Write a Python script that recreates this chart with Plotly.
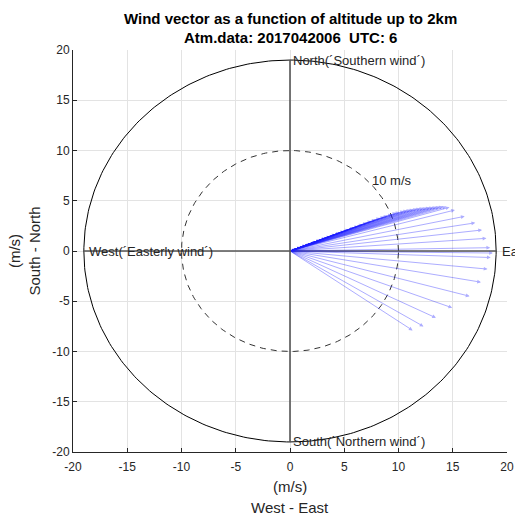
import plotly.graph_objects as go
import numpy as np

# ---- data ----
# wind components (m/s) at successive altitude levels: u = West-East, v = South-North
u_wind = [0.6, 1.0, 1.5, 1.9, 2.4, 2.8, 3.3, 3.7, 4.2, 4.6, 5.0, 5.4, 5.9, 6.3, 6.7,
          7.1, 7.5, 7.9, 8.3, 8.7, 9.0, 9.4, 9.8, 10.1, 10.5, 10.8, 11.1, 11.4, 11.7,
          12.0, 12.3, 12.6, 12.9, 13.2, 13.5, 13.8, 14.1, 14.4, 14.7,
          15.2, 16.1, 17.07, 17.7, 18.1, 18.45, 18.7, 18.5, 18.2, 17.6, 16.55,
          14.95, 13.45, 12.3, 11.3]
v_wind = [0.24, 0.40, 0.60, 0.76, 0.96, 1.12, 1.32, 1.48, 1.68, 1.84, 2.00, 2.16, 2.35,
          2.50, 2.66, 2.82, 2.98, 3.13, 3.28, 3.42, 3.52, 3.65, 3.80, 3.88, 3.98, 4.05,
          4.10, 4.15, 4.20, 4.25, 4.28, 4.30, 4.33, 4.36, 4.38, 4.40, 4.42, 4.40, 4.35,
          4.08, 3.45, 2.80, 2.09, 1.26, 0.33, -0.20, -0.65, -1.80, -3.10, -4.50,
          -5.65, -6.65, -7.50, -7.90]

outer_radius = 19
ref_radius = 10
ref_label = "10 m/s"
ref_label_pos = (7.3, 7.0)
x_ticks = [-20, -15, -10, -5, 0, 5, 10, 15, 20]
y_ticks = [-20, -15, -10, -5, 0, 5, 10, 15, 20]

title_lines = ["Wind vector as a function of altitude up to 2km",
               "Atm.data: 2017042006  UTC: 6"]
x_title_lines = ["(m/s)", "West - East"]
y_title = "(m/s)<br>South - North"

FONT = "Liberation Sans, Arial, sans-serif"
AX = "#262626"

fig = go.Figure()

# circles
theta = np.linspace(0, 2 * np.pi, 361)
fig.add_trace(go.Scatter(x=outer_radius * np.cos(theta), y=outer_radius * np.sin(theta),
                         mode="lines", line=dict(color="black", width=1), hoverinfo="skip",
                         showlegend=False))
fig.add_trace(go.Scatter(x=ref_radius * np.cos(theta), y=ref_radius * np.sin(theta),
                         mode="lines", line=dict(color="#333333", width=1, dash="6px,5px"),
                         hoverinfo="skip", showlegend=False))
# cross axes
fig.add_trace(go.Scatter(x=[-outer_radius, outer_radius], y=[0, 0], mode="lines",
                         line=dict(color="#555555", width=1.6), hoverinfo="skip", showlegend=False))
fig.add_trace(go.Scatter(x=[0, 0], y=[-outer_radius, outer_radius], mode="lines",
                         line=dict(color="#555555", width=1.6), hoverinfo="skip", showlegend=False))

annotations = []
for u, v in zip(u_wind, v_wind):
    annotations.append(dict(x=u, y=v, ax=0, ay=0, xref="x", yref="y", axref="x", ayref="y",
                            showarrow=True, arrowhead=2, arrowsize=0.75, arrowwidth=1,
                            arrowcolor="rgba(30,30,255,0.36)", text=""))

labels = [
    (0, outer_radius, "North(´Southern wind´)", 1),
    (0, -outer_radius, "South(´Northern wind´)", 1),
    (-outer_radius, 0, "West(´Easterly wind´)", 3),
    (outer_radius, 0, "East", 4),
    (ref_label_pos[0], ref_label_pos[1], ref_label, 1),
]
for x, y, t, xs in labels:
    annotations.append(dict(x=x, y=y, xref="x", yref="y", text=t, showarrow=False,
                            xanchor="left", yanchor="middle", xshift=xs,
                            font=dict(family=FONT, size=13, color="#262626")))

# title lines
for line, shift in zip(title_lines, [32, 13]):
    annotations.append(dict(x=0.5, y=1, xref="paper", yref="paper", text="<b>" + line + "</b>",
                            showarrow=False, xanchor="center", yanchor="middle", yshift=shift,
                            font=dict(family=FONT, size=15, color="black")))
# x-axis title lines
for line, shift in zip(x_title_lines, [-34, -55]):
    annotations.append(dict(x=0.5, y=0, xref="paper", yref="paper", text=line,
                            showarrow=False, xanchor="center", yanchor="middle", yshift=shift,
                            font=dict(family=FONT, size=15, color=AX)))

fig.update_layout(
    width=515, height=515,
    margin=dict(l=73, r=8, t=50, b=63),
    paper_bgcolor="white", plot_bgcolor="white",
    font=dict(family=FONT, size=12, color=AX),
    annotations=annotations,
    showlegend=False,
)
fig.update_xaxes(range=[-20, 20], tickvals=x_ticks, ticktext=[str(t) for t in x_ticks],
                 showgrid=True, gridcolor="#e3e3e3", gridwidth=1, zeroline=False,
                 showline=True, linecolor=AX, linewidth=1, ticks="inside", ticklen=4,
                 tickcolor=AX, tickfont=dict(size=12, color=AX), ticklabelstandoff=4,
                 automargin=False)
fig.update_yaxes(range=[-20, 20], tickvals=y_ticks, ticktext=[str(t) for t in y_ticks],
                 showgrid=True, gridcolor="#e3e3e3", gridwidth=1, zeroline=False,
                 showline=True, linecolor=AX, linewidth=1, ticks="inside", ticklen=4,
                 tickcolor=AX, tickfont=dict(size=12, color=AX),
                 title=dict(text=y_title, font=dict(size=15, color=AX), standoff=8))

fig.write_html("out.html", config={"displayModeBar": False},
               post_script="document.body.style.margin='0px';document.body.style.overflow='hidden';")
